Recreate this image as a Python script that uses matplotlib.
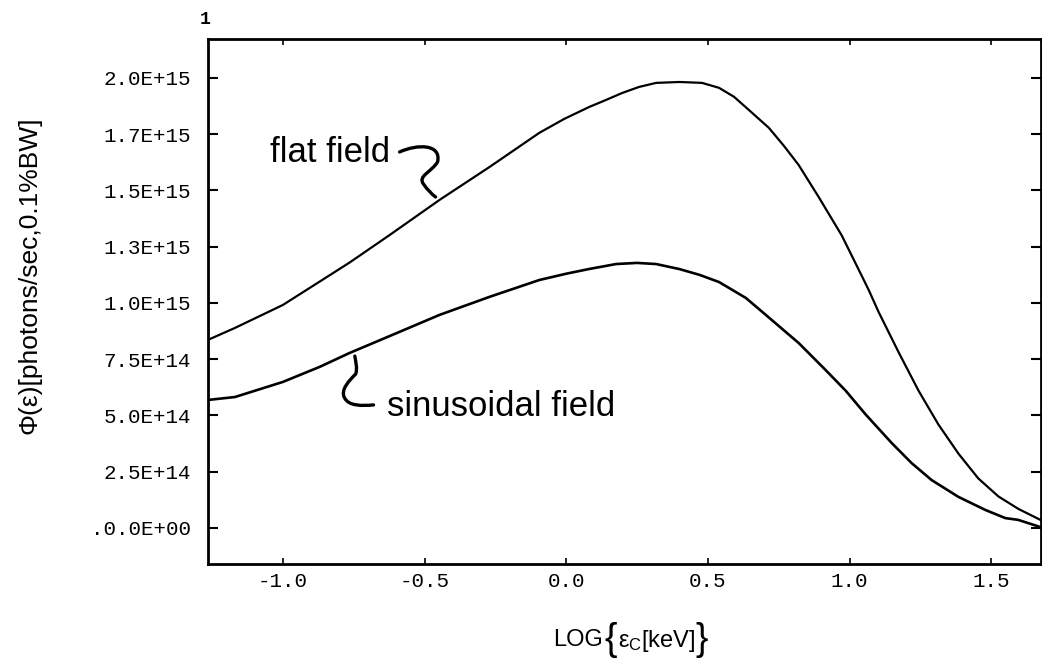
import matplotlib
matplotlib.use('Agg')
import matplotlib.pyplot as plt
from matplotlib.path import Path
from matplotlib.patches import PathPatch

# ---- data ----
log_ec_flat = [-1.264, -1.169, -1.0, -0.87, -0.764, -0.623, -0.535, -0.447, -0.359, -0.271,
               -0.183, -0.095, -0.007, 0.081, 0.140, 0.197, 0.257, 0.317, 0.400, 0.479,
               0.539, 0.592, 0.644, 0.715, 0.768, 0.820, 0.891, 0.972, 1.020, 1.067,
               1.102, 1.173, 1.243, 1.313, 1.384, 1.454, 1.525, 1.595, 1.673]
flux_flat_e15 = [0.836, 0.889, 0.991, 1.095, 1.180, 1.302, 1.380, 1.458, 1.531, 1.604,
                 1.680, 1.756, 1.818, 1.871, 1.902, 1.933, 1.960, 1.978, 1.982, 1.978,
                 1.956, 1.916, 1.858, 1.778, 1.698, 1.613, 1.470, 1.300, 1.178, 1.058,
                 0.960, 0.780, 0.610, 0.460, 0.330, 0.220, 0.140, 0.085, 0.036]

log_ec_sin = [-1.264, -1.169, -1.0, -0.870, -0.764, -0.623, -0.447, -0.271, -0.095, 0.0,
              0.081, 0.176, 0.250, 0.317, 0.398, 0.470, 0.539, 0.634, 0.704, 0.820,
              0.915, 0.986, 1.056, 1.148, 1.218, 1.289, 1.384, 1.479, 1.549, 1.595, 1.673]
flux_sin_e15 = [0.569, 0.582, 0.649, 0.716, 0.778, 0.853, 0.947, 1.027, 1.102, 1.130,
                1.151, 1.173, 1.178, 1.173, 1.151, 1.125, 1.093, 1.022, 0.947, 0.822,
                0.702, 0.610, 0.505, 0.378, 0.289, 0.213, 0.138, 0.080, 0.044, 0.036, 0.004]

y_tick_values_e15 = [0.0, 0.25, 0.5, 0.75, 1.0, 1.25, 1.5, 1.75, 2.0]
y_tick_labels = ['.0.0E+00', '2.5E+14', '5.0E+14', '7.5E+14', '1.0E+15',
                 '1.3E+15', '1.5E+15', '1.7E+15', '2.0E+15']
x_tick_values = [-1.0, -0.5, 0.0, 0.5, 1.0, 1.5]
x_tick_labels = ['-1.0', '-0.5', '0.0', '0.5', '1.0', '1.5']

label_flat = 'flat field'
label_sin = 'sinusoidal field'

# hand-drawn connector strokes (cubic Bezier control points, decorative)
sq_flat_x = [-0.588, -0.525, -0.440, -0.454, -0.475, -0.525, -0.504, -0.489, -0.475, -0.461]
sq_flat_y = [1.671, 1.707, 1.707, 1.627, 1.582, 1.564, 1.529, 1.502, 1.484, 1.471]
sq_sin_x = [-0.746, -0.743, -0.736, -0.743, -0.764, -0.799, -0.782, -0.768, -0.722, -0.680]
sq_sin_y = [0.764, 0.738, 0.711, 0.684, 0.658, 0.613, 0.578, 0.542, 0.542, 0.547]

# ---- drawing ----
plt.rcParams['mathtext.fontset'] = 'custom'
plt.rcParams['mathtext.rm'] = 'Liberation Sans'
plt.rcParams['mathtext.it'] = 'Liberation Sans'
plt.rcParams['mathtext.sf'] = 'Liberation Sans'

W, H = 1042, 662
fig = plt.figure(figsize=(W / 100, H / 100), dpi=100)
ax = fig.add_axes([208 / W, 1 - 564 / H, (1041 - 208) / W, (564 - 39) / H])

E15 = 1e15
ax.plot(log_ec_flat, [v * E15 for v in flux_flat_e15], color='black', lw=1.6,
        solid_joinstyle='round')
ax.plot(log_ec_sin, [v * E15 for v in flux_sin_e15], color='black', lw=1.9,
        solid_joinstyle='round')

ax.set_xlim(-1.264, 1.675)
ax.set_ylim(-0.16 * E15, 2.173 * E15)

ax.set_xticks(x_tick_values)
ax.set_xticklabels(x_tick_labels)
ax.set_yticks([v * E15 for v in y_tick_values_e15])
ax.set_yticklabels(y_tick_labels)

mono = 'Liberation Mono'
for lab in ax.get_xticklabels() + ax.get_yticklabels():
    lab.set_fontfamily(mono)
    lab.set_fontsize(15)

ax.tick_params(axis='y', direction='in', length=7, width=1.5, pad=12,
               left=True, right=True)
ax.tick_params(axis='x', direction='in', length=4, width=1.2, pad=6,
               bottom=True, top=True)
for s in ax.spines.values():
    s.set_linewidth(2.0)

# annotations
ax.text(-1.046, 1.627 * E15, label_flat, fontsize=25, family='Liberation Sans',
        ha='left', va='baseline')
ax.text(-0.634, 0.498 * E15, label_sin, fontsize=25, family='Liberation Sans',
        ha='left', va='baseline')

codes = [Path.MOVETO] + [Path.CURVE4] * 9
for xs, ys in ((sq_flat_x, sq_flat_y), (sq_sin_x, sq_sin_y)):
    verts = [(x, y * E15) for x, y in zip(xs, ys)]
    ax.add_patch(PathPatch(Path(verts, codes), facecolor='none', edgecolor='black',
                           lw=2.4, capstyle='round', joinstyle='round'))

# axis titles
fig.text(30 / W, 1 - 275 / H, 'Φ(ε)[photons/sec,0.1%BW]', rotation=90,
         fontsize=19, family='Liberation Sans', ha='center', va='center')

t1 = fig.text(553 / W, 1 - 640 / H, 'LOG', fontsize=17, family='Liberation Sans',
              ha='left', va='center')
t2 = ax.annotate('{', xy=(1, 0.5), xycoords=t1, xytext=(1, 0), textcoords='offset points',
                 fontsize=27, family='Liberation Sans', ha='left', va='center',
                 annotation_clip=False)
t3 = ax.annotate(r'$\varepsilon_{\mathrm{C}}$[keV]', xy=(1, 0.5), xycoords=t2,
                 xytext=(1, -1), textcoords='offset points', fontsize=17,
                 family='Liberation Sans', ha='left', va='center', annotation_clip=False)
t4 = ax.annotate('}', xy=(1, 0.5), xycoords=t3, xytext=(0, 1), textcoords='offset points',
                 fontsize=27, family='Liberation Sans', ha='left', va='center',
                 annotation_clip=False)

fig.text(205 / W, 1 - 20 / H, '1', fontsize=13, family=mono, fontweight='bold',
         ha='center', va='center')

fig.savefig('out.png', dpi=100)
